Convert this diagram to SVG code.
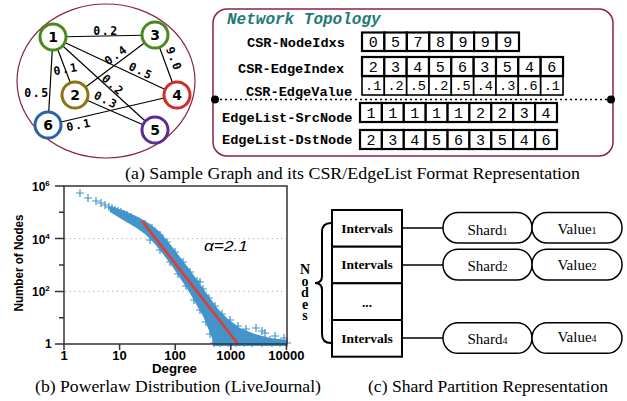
<svg xmlns="http://www.w3.org/2000/svg" width="627" height="401" viewBox="0 0 627 401">
<style>
.node circle{fill:#fff;stroke-width:3}
.nl{font-family:"DejaVu Sans",sans-serif;font-weight:bold;font-size:14px;text-anchor:middle}
.el{font-family:"DejaVu Sans Mono",monospace;font-weight:bold;font-size:11.5px;letter-spacing:1.5px;text-anchor:middle}
.edge line{stroke:#000;stroke-width:1.2}
.lbl{font-family:"Liberation Mono",monospace;font-weight:bold;font-size:13.6px}
.cell rect{fill:#fff;stroke:#000;stroke-width:2.2}
.cell text{font-family:"Liberation Mono",monospace;font-size:15px;text-anchor:middle}
.thin rect{stroke-width:1.6}
.thin text{font-size:13.5px}
.cap{font-family:"Liberation Serif",serif;font-size:17.5px}
.ax{font-family:"Liberation Sans",sans-serif;font-weight:bold;font-size:13px;text-anchor:middle}
.ay{font-family:"Liberation Sans",sans-serif;font-weight:bold;font-size:12px}
.iv rect{fill:#fff;stroke:#000;stroke-width:2}
.iv text{font-family:"Liberation Serif",serif;font-weight:bold;font-size:13.5px;text-anchor:middle}
.pill rect{fill:#fff;stroke:#000;stroke-width:1.5}
.pill text{font-family:"Liberation Serif",serif;font-size:15px;text-anchor:middle}
.conn line{stroke:#000;stroke-width:1.5}
.nd{font-family:"Liberation Serif",serif;font-weight:bold;font-size:14px;writing-mode:vertical-rl;text-orientation:upright;letter-spacing:-3.5px}
</style>
<rect width="627" height="401" fill="#fff"/>

<!-- (a) sample graph -->
<ellipse cx="106" cy="81" rx="89" ry="77" fill="none" stroke="#8b2346" stroke-width="1.2"/>
<g id="graph-edges" class="edge">
<line x1="53" y1="37" x2="155" y2="35"/>
<line x1="53" y1="37" x2="48" y2="125"/>
<line x1="53" y1="37" x2="75" y2="95"/>
<line x1="53" y1="37" x2="177" y2="95"/>
<line x1="53" y1="37" x2="155" y2="130"/>
<line x1="155" y1="35" x2="75" y2="95"/>
<line x1="155" y1="35" x2="177" y2="95"/>
<line x1="75" y1="95" x2="155" y2="130"/>
<line x1="48" y1="125" x2="177" y2="95"/>
</g>
<g id="edge-labels" class="el">
<text x="106" y="35">0.2</text>
<text x="37" y="97">0.5</text>
<text transform="translate(66,69) rotate(-10)" y="4">0.1</text>
<text transform="translate(116,55) rotate(-35)" y="4">0.4</text>
<text transform="translate(141,71) rotate(25)" y="4">0.5</text>
<text transform="translate(113,85) rotate(42)" y="4">0.2</text>
<text transform="translate(106,100) rotate(26)" y="4">0.3</text>
<text transform="translate(79,125) rotate(-11)" y="4">0.1</text>
<text transform="translate(174,59) rotate(69)" y="4">9.0</text>
</g>
<g id="n1" class="node"><circle cx="53" cy="37" r="13" stroke="#4a8a1c"/><text class="nl" x="53" y="42">1</text></g>
<g id="n3" class="node"><circle cx="155" cy="35" r="13" stroke="#4a8a1c"/><text class="nl" x="155" y="40">3</text></g>
<g id="n2" class="node"><circle cx="75" cy="95" r="13" stroke="#8c7410"/><text class="nl" x="75" y="100">2</text></g>
<g id="n4" class="node"><circle cx="177" cy="95" r="13" stroke="#d42a2a"/><text class="nl" x="177" y="100">4</text></g>
<g id="n6" class="node"><circle cx="48" cy="125" r="13" stroke="#2a62a6"/><text class="nl" x="48" y="130">6</text></g>
<g id="n5" class="node"><circle cx="155" cy="130" r="13" stroke="#5a2d90"/><text class="nl" x="155" y="135">5</text></g>

<!-- network topology panel -->
<g id="topology">
<rect x="213" y="9" width="400" height="147" rx="14" fill="none" stroke="#8b2346" stroke-width="1.5"/>
<line x1="215" y1="99.5" x2="611" y2="99.5" stroke="#000" stroke-width="1.3" stroke-dasharray="2 3"/>
<circle cx="215" cy="99.5" r="4" fill="#000"/>
<circle cx="611" cy="99.5" r="4" fill="#000"/>
<text x="227" y="24" font-family="Liberation Mono, monospace" font-weight="bold" font-style="italic" font-size="16px" fill="#1f7a78">Network Topology</text>
<text class="lbl" x="247" y="46.5">CSR-NodeIdxs</text>
<text class="lbl" x="238" y="73">CSR-EdgeIndex</text>
<text class="lbl" x="246" y="95.5">CSR-EdgeValue</text>
<text class="lbl" x="222" y="122">EdgeList-SrcNode</text>
<text class="lbl" x="222" y="143.5">EdgeList-DstNode</text>
</g>
<g id="row-nodeidxs" class="cell">
<rect x="362" y="32.5" width="22.4" height="18.5"/><rect x="384.4" y="32.5" width="22.4" height="18.5"/><rect x="406.9" y="32.5" width="22.4" height="18.5"/><rect x="429.3" y="32.5" width="22.4" height="18.5"/><rect x="451.7" y="32.5" width="22.4" height="18.5"/><rect x="474.1" y="32.5" width="22.4" height="18.5"/><rect x="496.6" y="32.5" width="22.4" height="18.5"/>
<text x="373.2" y="47">0</text><text x="395.6" y="47">5</text><text x="418.1" y="47">7</text><text x="440.5" y="47">8</text><text x="462.9" y="47">9</text><text x="485.3" y="47">9</text><text x="507.8" y="47">9</text>
</g>
<g id="row-edgeindex" class="cell">
<rect x="362" y="57" width="22.33" height="19"/><rect x="384.3" y="57" width="22.33" height="19"/><rect x="406.7" y="57" width="22.33" height="19"/><rect x="429" y="57" width="22.33" height="19"/><rect x="451.3" y="57" width="22.33" height="19"/><rect x="473.7" y="57" width="22.33" height="19"/><rect x="496" y="57" width="22.33" height="19"/><rect x="518.3" y="57" width="22.33" height="19"/><rect x="540.7" y="57" width="22.33" height="19"/>
<text x="373.2" y="71.5">2</text><text x="395.5" y="71.5">3</text><text x="417.8" y="71.5">4</text><text x="440.2" y="71.5">5</text><text x="462.5" y="71.5">6</text><text x="484.8" y="71.5">3</text><text x="507.2" y="71.5">5</text><text x="529.5" y="71.5">4</text><text x="551.8" y="71.5">6</text>
</g>
<g id="row-edgevalue" class="cell thin">
<rect x="362" y="76.5" width="22.33" height="18.5"/><rect x="384.3" y="76.5" width="22.33" height="18.5"/><rect x="406.7" y="76.5" width="22.33" height="18.5"/><rect x="429" y="76.5" width="22.33" height="18.5"/><rect x="451.3" y="76.5" width="22.33" height="18.5"/><rect x="473.7" y="76.5" width="22.33" height="18.5"/><rect x="496" y="76.5" width="22.33" height="18.5"/><rect x="518.3" y="76.5" width="22.33" height="18.5"/><rect x="540.7" y="76.5" width="22.33" height="18.5"/>
<text x="373.2" y="90">.1</text><text x="395.5" y="90">.2</text><text x="417.8" y="90">.5</text><text x="440.2" y="90">.2</text><text x="462.5" y="90">.5</text><text x="484.8" y="90">.4</text><text x="507.2" y="90">.3</text><text x="529.5" y="90">.6</text><text x="551.8" y="90">.1</text>
</g>
<g id="row-srcnode" class="cell">
<rect x="360" y="103" width="21.89" height="19"/><rect x="381.9" y="103" width="21.89" height="19"/><rect x="403.8" y="103" width="21.89" height="19"/><rect x="425.7" y="103" width="21.89" height="19"/><rect x="447.6" y="103" width="21.89" height="19"/><rect x="469.4" y="103" width="21.89" height="19"/><rect x="491.3" y="103" width="21.89" height="19"/><rect x="513.2" y="103" width="21.89" height="19"/><rect x="535.1" y="103" width="21.89" height="19"/>
<text x="370.9" y="117.5">1</text><text x="392.8" y="117.5">1</text><text x="414.7" y="117.5">1</text><text x="436.6" y="117.5">1</text><text x="458.5" y="117.5">1</text><text x="480.4" y="117.5">2</text><text x="502.3" y="117.5">2</text><text x="524.2" y="117.5">3</text><text x="546.1" y="117.5">4</text>
</g>
<g id="row-dstnode" class="cell">
<rect x="360" y="130" width="21.89" height="19"/><rect x="381.9" y="130" width="21.89" height="19"/><rect x="403.8" y="130" width="21.89" height="19"/><rect x="425.7" y="130" width="21.89" height="19"/><rect x="447.6" y="130" width="21.89" height="19"/><rect x="469.4" y="130" width="21.89" height="19"/><rect x="491.3" y="130" width="21.89" height="19"/><rect x="513.2" y="130" width="21.89" height="19"/><rect x="535.1" y="130" width="21.89" height="19"/>
<text x="370.9" y="144.5">2</text><text x="392.8" y="144.5">3</text><text x="414.7" y="144.5">4</text><text x="436.6" y="144.5">5</text><text x="458.5" y="144.5">6</text><text x="480.4" y="144.5">3</text><text x="502.3" y="144.5">5</text><text x="524.2" y="144.5">4</text><text x="546.1" y="144.5">6</text>
</g>
<text class="cap" x="125" y="179" textLength="455" lengthAdjust="spacingAndGlyphs">(a) Sample Graph and its CSR/EdgeList Format Representation</text>

<!-- (b) powerlaw plot -->
<g id="plot">
<g stroke="#aaa" stroke-width="1" stroke-dasharray="1.2 3.5">
<line x1="65" y1="238.6" x2="286" y2="238.6"/>
<line x1="65" y1="291.4" x2="286" y2="291.4"/>
</g>
<path d="M110,206 L125,211 L140,218 L150,224 L160,232 L170,244 L180,257 L190,270 L200,284 L210,298 L218,309 L228,319 L240,328 L255,334 L270,338 L287,340 L287,346 L213,346 L212,338 L208,328 L203,316 L196,304 L188,290 L180,278 L172,266 L163,254 L154,243 L145,234 L135,227 L123,220 L110,212 Z" fill="#4294ca"/>
<path fill="none" stroke="#4294ca" stroke-width="1.2" d="M76,193h8M80,189v8 M84,198h8M88,194v8 M92,201h8M96,197v8 M97,203h8M101,199v8 M101,205h8M105,201v8 M105,207h8M109,203v8 M108,208h8M112,204v8 M111,210h8M115,206v8 M114,211h8M118,207v8 M117,212h8M121,208v8 M120,214h8M124,210v8 M123,215h8M127,211v8 M127,217h8M131,213v8 M130,219h8M134,215v8 M134,221h8M138,217v8 M141,224h8M145,220v8 M148,228h8M152,224v8 M156,235h8M160,231v8 M163,242h8M167,238v8 M171,252h8M175,248v8 M179,262h8M183,258v8 M186,272h8M190,268v8 M193,281h8M197,277v8 M196,282h8M200,278v8 M199,289h8M203,285v8 M205,298h8M209,294v8 M211,306h8M215,302v8 M218,314h8M222,310v8 M226,320h8M230,316v8 M234,326h8M238,322v8 M242,329h8M246,325v8 M252,328h8M256,324v8 M258,331h8M262,327v8 M261,333h8M265,329v8 M271,336h8M275,332v8 M280,338h8M284,334v8 M228,333h8M232,329v8 M146,240h8M150,236v8 M156,250h8M160,246v8 M166,262h8M170,258v8 M174,274h8M178,270v8 M182,286h8M186,282v8 M190,300h8M194,296v8 M196,310h8M200,306v8 M202,322h8M206,318v8 M206,334h8M210,330v8 M210,343h8M214,339v8 M216,343h8M220,339v8 M224,343h8M228,339v8 M232,343h8M236,339v8 M240,343h8M244,339v8 M248,343h8M252,339v8 M258,343h8M262,339v8 M268,343h8M272,339v8 M276,343h8M280,339v8 M283,343h8M287,339v8 M246,338h8M250,334v8 M266,340h8M270,336v8"/>
<line x1="142" y1="221" x2="238" y2="344" stroke="#e53a2f" stroke-width="2.6"/>
<g stroke="#333" stroke-width="1.5" fill="none">
<path d="M64,186 H287 V344 H64 Z"/>
<path d="M55,186 H64 M55,238.6 H64 M55,291.4 H64 M55,344 H64 M59,212.3 H64 M59,265 H64 M59,317.7 H64"/>
<path d="M64,344 V350 M119.6,344 V350 M175.2,344 V350 M230.8,344 V350 M286.4,344 V350"/>
</g>
<text class="ay" x="32" y="190.5">10<tspan dy="-5" font-size="8px">6</tspan></text>
<text class="ay" x="32" y="243.5">10<tspan dy="-5" font-size="8px">4</tspan></text>
<text class="ay" x="32" y="296">10<tspan dy="-5" font-size="8px">2</tspan></text>
<text class="ay" x="45" y="348">1</text>
<text class="ax" x="64" y="359.5">1</text>
<text class="ax" x="119.6" y="359.5">10</text>
<text class="ax" x="175.2" y="359.5">100</text>
<text class="ax" x="230.8" y="359.5">1000</text>
<text class="ax" x="286.4" y="359.5">10000</text>
<text class="ax" x="174.5" y="373" font-size="11px" textLength="45" lengthAdjust="spacingAndGlyphs">Degree</text>
<text transform="translate(23,263) rotate(-90)" font-family="Liberation Sans, sans-serif" font-weight="bold" font-size="13px" text-anchor="middle" textLength="97" lengthAdjust="spacingAndGlyphs">Number of Nodes</text>
<text x="204" y="251" font-family="Liberation Sans, sans-serif" font-style="italic" font-size="15.5px" textLength="44" lengthAdjust="spacingAndGlyphs">α=2.1</text>
</g>
<text class="cap" x="35" y="392" textLength="286" lengthAdjust="spacingAndGlyphs">(b) Powerlaw Distribution (LiveJournal)</text>

<!-- (c) shard partition -->
<path id="brace" d="M331,223 Q322,223 322,232 V276 Q322,283 315,283 Q322,283 322,290 V334 Q322,343 331,343" fill="none" stroke="#000" stroke-width="2"/>
<g id="nodes-label">
<text class="nd" x="305" y="262">Nodes</text>
</g>
<g id="intervals" class="iv">
<rect x="332" y="210" width="70" height="36.7"/>
<rect x="332" y="246.7" width="70" height="36.6"/>
<rect x="332" y="283.3" width="70" height="36.7"/>
<rect x="332" y="320" width="70" height="36.7"/>
<text x="367" y="232.5">Intervals</text>
<text x="367" y="269">Intervals</text>
<text x="367" y="307" font-size="16px">...</text>
<text x="367" y="342.5">Intervals</text>
</g>
<g id="connectors" class="conn">
<line x1="402" y1="228" x2="443" y2="228"/>
<line x1="402" y1="265" x2="443" y2="265"/>
<line x1="402" y1="338" x2="443" y2="338"/>
</g>
<g id="shard1" class="pill"><rect x="443" y="212.5" width="89" height="30.5" rx="15"/><text x="487.5" y="235">Shard<tspan font-size="10px">1</tspan></text></g>
<g id="value1" class="pill"><rect x="532" y="212.5" width="90" height="30.5" rx="15"/><text x="577" y="233.5">Value<tspan font-size="10px">1</tspan></text></g>
<g id="shard2" class="pill"><rect x="443" y="249.2" width="89" height="30.8" rx="15"/><text x="487.5" y="270.5">Shard<tspan font-size="10px">2</tspan></text></g>
<g id="value2" class="pill"><rect x="532" y="249.2" width="90" height="30.8" rx="15"/><text x="577" y="269.5">Value<tspan font-size="10px">2</tspan></text></g>
<g id="shard4" class="pill"><rect x="443" y="322.8" width="89" height="30.5" rx="15"/><text x="487.5" y="343.5">Shard<tspan font-size="10px">4</tspan></text></g>
<g id="value4" class="pill"><rect x="532" y="322.8" width="90" height="30.5" rx="15"/><text x="577" y="342">Value<tspan font-size="10px">4</tspan></text></g>
<text class="cap" x="368" y="392" textLength="240" lengthAdjust="spacingAndGlyphs">(c) Shard Partition Representation</text>
</svg>
